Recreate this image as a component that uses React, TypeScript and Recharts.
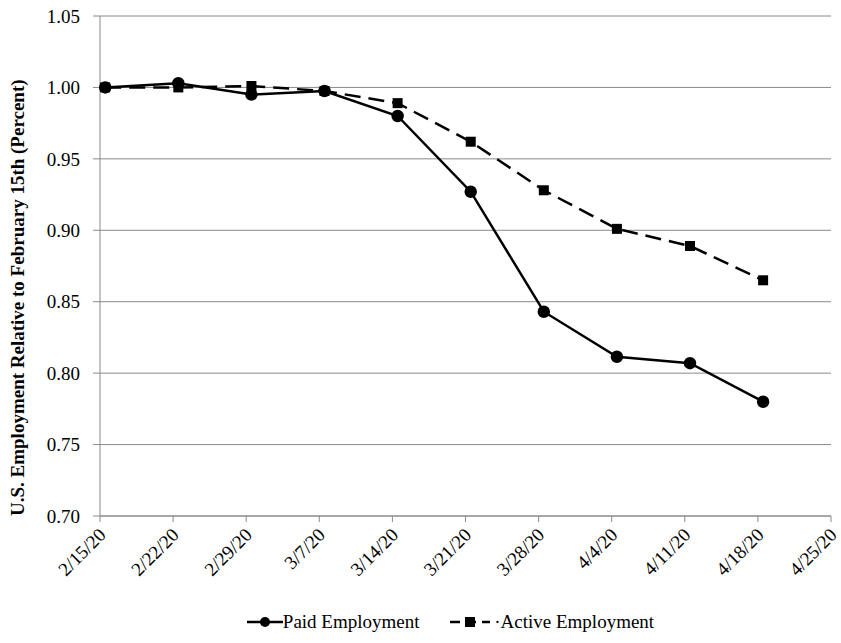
import { LineChart, Line, XAxis, YAxis, CartesianGrid, Legend } from 'recharts';

// days since 2/15/20 at which each observation sits
const days = [0.5, 7.5, 14.5, 21.5, 28.5, 35.5, 42.5, 49.5, 56.5, 63.5];
const paid = [1.0, 1.003, 0.995, 0.9975, 0.98, 0.927, 0.843, 0.8115, 0.807, 0.78];
const active = [1.0, 1.0, 1.001, 0.9975, 0.989, 0.962, 0.928, 0.901, 0.889, 0.865];
const tickLabels = ['2/15/20', '2/22/20', '2/29/20', '3/7/20', '3/14/20', '3/21/20', '3/28/20', '4/4/20', '4/11/20', '4/18/20', '4/25/20'];
const yTicks = [0.7, 0.75, 0.8, 0.85, 0.9, 0.95, 1.0, 1.05];

const data = days.map((d, i) => ({ day: d, paid: paid[i], active: active[i] }));
const font = 'Liberation Serif, Times New Roman, serif';

const Square = (p: any) => (
  <rect x={p.cx - 5} y={p.cy - 5} width={10} height={10} fill="#000" />
);

const XTick = (p: any) => (
  <text x={p.x + 7} y={p.y + 12} textAnchor="end" transform={`rotate(-45 ${p.x + 7} ${p.y + 12})`}
    fontFamily={font} fontSize={19} fill="#000">
    {tickLabels[Math.round(p.payload.value / 7)]}
  </text>
);

const LegendContent = () => (
  <div style={{ display: 'flex', justifyContent: 'center', gap: 30, fontFamily: font, fontSize: 19, color: '#000', paddingLeft: 30 }}>
    <span style={{ display: 'flex', alignItems: 'center' }}>
      <svg width={36} height={12}><line x1={0} y1={6} x2={36} y2={6} stroke="#000" strokeWidth={2.5} /><circle cx={18} cy={6} r={5} fill="#000" /></svg>
      Paid Employment
    </span>
    <span style={{ display: 'flex', alignItems: 'center' }}>
      <svg width={40} height={12}><line x1={0} y1={6} x2={40} y2={6} stroke="#000" strokeWidth={2.5} strokeDasharray="10 6" /><rect x={15} y={1} width={10} height={10} fill="#000" /></svg>
      &nbsp;·Active Employment
    </span>
  </div>
);

export default function App() {
  return (
    <div style={{ position: 'absolute', left: 0, top: 0, background: '#fff' }}>
      <LineChart width={841} height={643} data={data} margin={{ top: 16, right: 10, left: 40, bottom: 2 }}>
        <CartesianGrid vertical={false} stroke="#8a8a8a" />
        <XAxis dataKey="day" type="number" domain={[0, 70]} ticks={[0, 7, 14, 21, 28, 35, 42, 49, 56, 63, 70]}
          height={95} tick={<XTick />} stroke="#8a8a8a" tickSize={6} />
        <YAxis domain={[0.7, 1.05]} ticks={yTicks} width={60} stroke="#8a8a8a" tickSize={7} tickMargin={13}
          tickFormatter={(v: number) => v.toFixed(2)}
          tick={{ fontFamily: font, fontSize: 19, fill: '#000' }}
          label={{ value: 'U.S. Employment Relative to February 15th (Percent)', angle: -90, position: 'insideLeft', dx: -28, dy: 250,
            style: { fontFamily: font, fontSize: 19, fontWeight: 'bold', fill: '#000' } } as any} />
        <Legend verticalAlign="bottom" height={30} content={<LegendContent />} />
        <Line dataKey="active" stroke="#000" strokeWidth={2.5} strokeDasharray="16 8" dot={<Square />} isAnimationActive={false} />
        <Line dataKey="paid" stroke="#000" strokeWidth={2.5} dot={{ r: 5, fill: '#000', stroke: '#000' }} isAnimationActive={false} />
      </LineChart>
    </div>
  );
}
